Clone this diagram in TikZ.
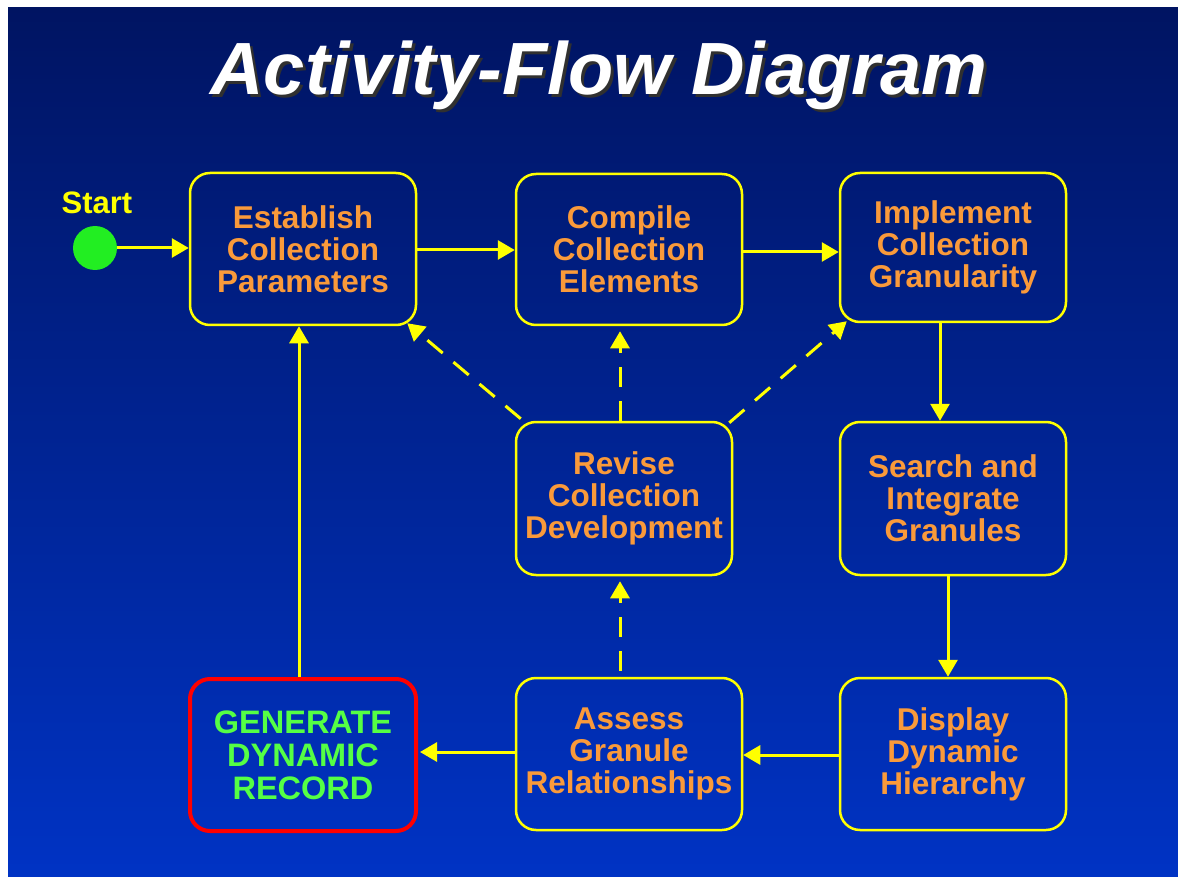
\documentclass[tikz,border=0pt]{standalone}
\usepackage{fontspec}
\setmainfont{Liberation Sans}
\usetikzlibrary{arrows.meta,calc}
\definecolor{bgtop}{HTML}{001462}
\definecolor{bgbot}{HTML}{0033C4}
\definecolor{flowyellow}{HTML}{FFFF00}
\definecolor{boxtext}{HTML}{FA9A3A}
\definecolor{gentext}{HTML}{55FF44}
\definecolor{startgreen}{HTML}{22EE22}
\definecolor{shadowgray}{HTML}{303030}
\tikzset{
  actbox/.style={draw=flowyellow, line width=2.5pt, rounded corners=20pt,
    minimum width=226pt, minimum height=152pt, inner sep=0pt,
    align=center, text=boxtext, font=\fontsize{31.5}{32}\selectfont\bfseries},
  genbox/.style={actbox, draw=red, line width=4pt, text=gentext,
    font=\fontsize{32.5}{33}\selectfont\bfseries},
  flow/.style={draw=flowyellow, line width=3pt,
    -{Triangle[length=17pt,width=19pt]}},
  dflow/.style={flow, dash pattern=on 20pt off 14pt},
  startdot/.style={circle, fill=startgreen, minimum size=44pt, inner sep=0pt},
  titletext/.style={font=\fontsize{74}{80}\selectfont\bfseries\itshape, anchor=base}
}
\begin{document}
\begin{tikzpicture}[x=1pt,y=-1pt]
\useasboundingbox (0,0) rectangle (1178,877);
\fill[white] (0,0) rectangle (1178,877);
\shade[top color=bgtop, bottom color=bgbot] (8,8) rectangle (1178,877);

% title (with drop shadow)
\node[titletext, text=shadowgray] (titleshadow) at (602,98) {Activity-Flow Diagram};
\node[titletext, text=white] (title) at (599,95) {Activity-Flow Diagram};

% start
\node[startdot] (start) at (95,248) {};
\node[text=flowyellow, font=\fontsize{31}{32}\selectfont\bfseries] (startlabel) at (97,203) {Start};

% boxes
\node[actbox] (est) at (303,249) {Establish\\Collection\\Parameters};
\node[actbox, minimum height=151pt] (comp) at (629,249.5) {Compile\\Collection\\Elements};
\node[actbox, minimum height=149pt] (impl) at (953,247.5) {Implement\\Collection\\Granularity};
\node[actbox, minimum width=216pt, minimum height=153pt] (rev) at (624,498.5) {Revise\\Collection\\Development};
\node[actbox, minimum height=153pt] (search) at (953,498.5) {Search and\\Integrate\\Granules};
\node[actbox] (disp) at (953,754) {Display\\Dynamic\\Hierarchy};
\node[actbox] (assess) at (629,754) {Assess\\Granule\\Relationships};
\node[genbox] (gen) at (303,755) {GENERATE\\DYNAMIC\\RECORD};

% solid flows
\draw[flow] (start.east) -- (start -| est.west);
\draw[flow] (est.east |- 0,250) -- (comp.west |- 0,250);
\draw[flow] (comp.east |- 0,252) -- (impl.west |- 0,252);
\draw[flow] (impl.south -| 940,0) -- (search.north -| 940,0);
\draw[flow] (search.south -| 948,0) -- (disp.north -| 948,0);
\draw[flow] (disp.west |- 0,755) -- (assess.east |- 0,755);
\draw[flow] (assess.west |- 0,752) -- ($(gen.east |- 0,752)+(2,0)$);
\draw[flow] (gen.north -| 299,0) -- (est.south -| 299,0);

% dashed flows
\draw[dflow] ($(rev.north west)+(6,-2)$) -- ($(est.south east)+(-10,-3)$);
\draw[dflow] (rev.north -| 620,0) -- ($(comp.south -| 620,0)+(0,5)$);
\draw[dflow] ($(rev.north east)+(-4,2)$) -- ($(impl.south west)+(8,-2)$);
\draw[dflow] ($(assess.north -| 620,0)+(0,-6)$) -- ($(rev.south -| 620,0)+(0,5)$);
\end{tikzpicture}
\end{document}
